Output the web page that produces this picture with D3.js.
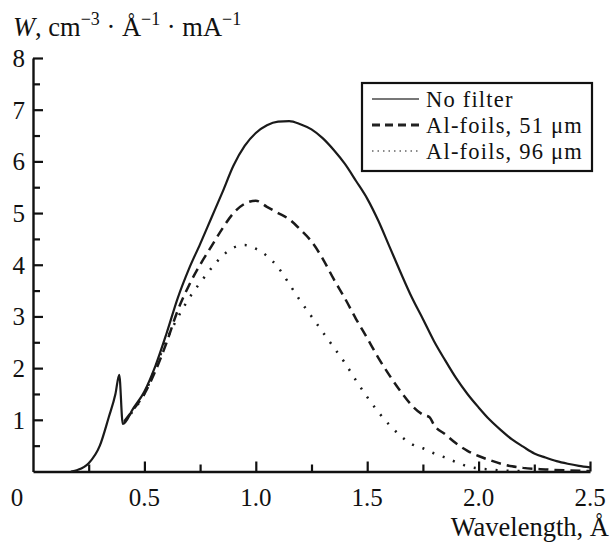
<!DOCTYPE html>
<html><head><meta charset="utf-8">
<script src="https://cdn.jsdelivr.net/npm/d3@7"></script>
<style>body{margin:0;background:#fff;}</style></head>
<body><svg id="c" width="613" height="543"></svg>
<script>
// ---- data ----
const noFilter = [[0.17,0],[0.2,0.03],[0.25,0.16],[0.3,0.5],[0.34,1.05],[0.37,1.5],[0.387,1.87],[0.403,0.92],[0.45,1.22],[0.5,1.55],[0.55,2.05],[0.6,2.68],[0.65,3.36],[0.7,3.92],[0.75,4.4],[0.8,4.9],[0.85,5.4],[0.9,5.92],[0.95,6.3],[1.0,6.55],[1.05,6.7],[1.1,6.77],[1.15,6.78],[1.2,6.72],[1.25,6.62],[1.3,6.45],[1.35,6.22],[1.4,5.95],[1.45,5.62],[1.5,5.28],[1.55,4.85],[1.6,4.35],[1.65,3.85],[1.7,3.37],[1.75,2.95],[1.8,2.52],[1.85,2.15],[1.9,1.8],[1.95,1.5],[2.0,1.24],[2.05,1.0],[2.1,0.8],[2.15,0.62],[2.2,0.48],[2.25,0.35],[2.3,0.27],[2.35,0.2],[2.4,0.15],[2.45,0.11],[2.5,0.08]];
const al51 = [[0.41,0.97],[0.45,1.2],[0.5,1.5],[0.55,1.95],[0.6,2.5],[0.65,3.12],[0.7,3.6],[0.75,4.0],[0.8,4.35],[0.85,4.7],[0.9,5.0],[0.95,5.18],[1.0,5.24],[1.05,5.12],[1.1,5.0],[1.15,4.88],[1.2,4.68],[1.25,4.45],[1.3,4.12],[1.35,3.72],[1.4,3.35],[1.45,2.95],[1.5,2.58],[1.55,2.2],[1.6,1.86],[1.65,1.55],[1.7,1.28],[1.75,1.1],[1.78,1.05],[1.8,0.9],[1.85,0.72],[1.9,0.54],[1.95,0.4],[2.0,0.3],[2.05,0.22],[2.1,0.15],[2.15,0.1],[2.2,0.07],[2.3,0.04],[2.4,0.02],[2.5,0.01]];
const al96 = [[0.41,0.95],[0.45,1.18],[0.5,1.5],[0.55,2.02],[0.6,2.55],[0.65,2.98],[0.7,3.35],[0.75,3.65],[0.8,3.93],[0.85,4.17],[0.9,4.33],[0.95,4.38],[1.0,4.31],[1.05,4.17],[1.1,3.95],[1.15,3.63],[1.2,3.3],[1.25,3.0],[1.3,2.7],[1.35,2.4],[1.4,2.1],[1.45,1.76],[1.5,1.44],[1.55,1.15],[1.6,0.9],[1.65,0.69],[1.7,0.53],[1.75,0.45],[1.8,0.35],[1.85,0.27],[1.9,0.18],[1.95,0.1],[2.0,0.06],[2.05,0.04],[2.1,0.02],[2.2,0.01]];
const seriesNames = ["No filter","Al-foils, 51 μm","Al-foils, 96 μm"];
const xTickValues = [0.25,0.5,0.75,1.0,1.25,1.5,1.75,2.0,2.25,2.5];
const xTickLabels = ["0.5","1.0","1.5","2.0","2.5"];
const yTickValues = [0.5,1,1.5,2,2.5,3,3.5,4,4.5,5,5.5,6,6.5,7,7.5,8];

const FONT = "Liberation Serif";

// ---- scales ----
const svg = d3.select("#c");
const x = d3.scaleLinear().domain([0,2.5]).range([33,590]);
const y = d3.scaleLinear().domain([0,8]).range([471.5,58]);
const txt = (sel)=>sel.attr("font-family",FONT).style("font-family",FONT).style("fill","#111");

// ---- axes ----
const isMajorX = v => Math.abs(v*2 - Math.round(v*2)) < 1e-6;
const xAxis = d3.axisBottom(x).tickValues(xTickValues).tickSize(0).tickFormat("");
const gx = svg.append("g").attr("transform",`translate(0,${y(0)})`).call(xAxis);
gx.select(".domain").attr("stroke","#111").attr("stroke-width",2.4);
gx.selectAll(".tick line").attr("y2",d=>isMajorX(d)?-10:-7).attr("stroke","#111").attr("stroke-width",2.2);
svg.append("g").selectAll("text").data(xTickValues.filter(isMajorX)).join("text")
  .attr("x",d=>x(d)).attr("y",506).attr("text-anchor","middle").attr("font-size",25)
  .call(txt).text((d,i)=>xTickLabels[i]);
svg.append("text").attr("x",x(0)-16).attr("y",506).attr("text-anchor","middle").attr("font-size",25)
  .call(txt).text("0");
svg.append("text").attr("x",609).attr("y",536).attr("text-anchor","end").attr("font-size",26.5)
  .call(txt).text("Wavelength, Å");

const isMajorY = v => Math.abs(v - Math.round(v)) < 1e-6;
const yAxis = d3.axisLeft(y).tickValues(yTickValues).tickSize(0).tickFormat("");
const gy = svg.append("g").attr("transform",`translate(${x(0)},0)`).call(yAxis);
gy.select(".domain").attr("stroke","#111").attr("stroke-width",2.4);
gy.selectAll(".tick line").attr("x2",d=>isMajorY(d)?10:7).attr("stroke","#111").attr("stroke-width",2.2);
svg.append("g").selectAll("text").data(yTickValues.filter(isMajorY)).join("text")
  .attr("x",25).attr("y",d=>y(d)+9).attr("text-anchor","end").attr("font-size",25)
  .call(txt).text(d=>d);

// ---- title ----
const t = svg.append("text").attr("x",13).attr("y",36).attr("font-size",26.5).call(txt);
t.append("tspan").attr("font-style","italic").text("W");
t.append("tspan").text(", cm");
t.append("tspan").attr("font-size",18).attr("dy",-11).text("−3");
t.append("tspan").attr("dy",11).text(" · Å");
t.append("tspan").attr("font-size",18).attr("dy",-11).text("−1");
t.append("tspan").attr("dy",11).text(" · mA");
t.append("tspan").attr("font-size",18).attr("dy",-11).text("−1");

// ---- curves ----
const line = d3.line().x(d=>x(d[0])).y(d=>y(d[1])).curve(d3.curveMonotoneX);
const styles = [
  {data:noFilter, dash:null, w:2.2, legendColor:"#777", legendDash:null, legendW:2},
  {data:al51, dash:"10,6", w:2.5, legendColor:"#222", legendDash:"8,5", legendW:3},
  {data:al96, dash:"2,9", w:2.5, legendColor:"#666", legendDash:"1.5,4", legendW:1.6}
];
styles.forEach(s=>{
  svg.append("path").attr("d",line(s.data)).attr("fill","none").attr("stroke","#1a1a1a")
    .attr("stroke-width",s.w).attr("stroke-dasharray",s.dash).attr("stroke-linecap","butt");
});

// ---- legend ----
const lg = svg.append("g");
lg.append("rect").attr("x",362).attr("y",83).attr("width",230).attr("height",88)
  .attr("fill","#fff").attr("stroke","#111").attr("stroke-width",2.2);
const rowY = [99,125,151];
styles.forEach((s,i)=>{
  lg.append("line").attr("x1",372).attr("x2",419).attr("y1",rowY[i]).attr("y2",rowY[i])
    .attr("stroke",s.legendColor).attr("stroke-width",s.legendW).attr("stroke-dasharray",s.legendDash);
  lg.append("text").attr("x",426).attr("y",rowY[i]+8).attr("font-size",22.5)
    .attr("letter-spacing",1.2).call(txt).text(seriesNames[i]);
});
</script></body></html>
